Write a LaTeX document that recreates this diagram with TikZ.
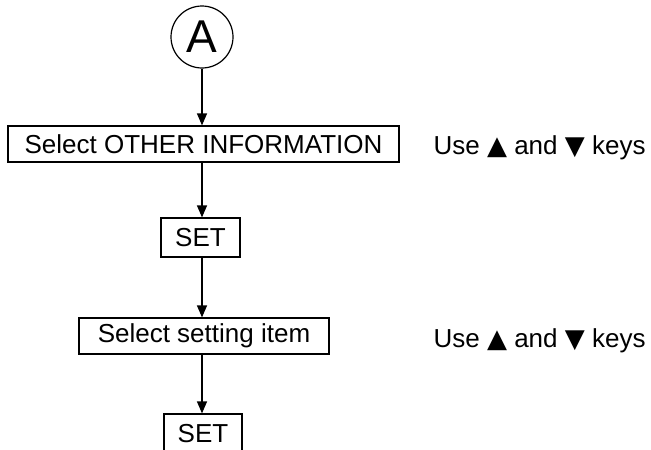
\documentclass[tikz,border=0pt]{standalone}
\usepackage{fontspec}
\setmainfont{Liberation Sans}
\newfontfamily\symfont{DejaVu Sans}
\usetikzlibrary{positioning, arrows.meta}

\begin{document}
\begin{tikzpicture}[
    x=1pt, y=-1pt,
    >={Triangle[length=12pt, width=10pt]},
    font=\fontsize{26}{30}\selectfont,
    line width=1.2pt,
    step box/.style={draw, line width=1.2pt, minimum height=36pt, inner sep=0pt},
    start mark/.style={circle, draw, line width=1.2pt, minimum size=62pt, inner sep=0pt,
                       font=\fontsize{46}{50}\selectfont},
    hint/.style={anchor=base west, inner sep=0pt},
]

\useasboundingbox (0,0) rectangle (651,450);

% Entry point
\node[start mark] (A) at (202,37) {A};

% Steps
\node[step box, minimum width=391pt] (other) at (203.5,144) {Select OTHER INFORMATION};
\node[step box, minimum width=79pt, minimum height=39pt] (set1) at (200.5,237.5) {SET};
\node[step box, minimum width=250pt] (item) at (204,336) {Select setting item};
\node[step box, minimum width=78pt, minimum height=40pt] (set2) at (203,434) {SET};

% Hints
\node[hint] (hint1) at (433,154) {Use {\symfont ▲} and {\symfont ▼} keys};
\node[hint] (hint2) at (433,347) {Use {\symfont ▲} and {\symfont ▼} keys};

% Flow
\draw[->] (A.south) -- (A.south |- other.north);
\draw[->] (A |- other.south) -- (A |- set1.north);
\draw[->] (A |- set1.south) -- (A |- item.north);
\draw[->] (A |- item.south) -- (A |- set2.north);

\end{tikzpicture}
\end{document}
